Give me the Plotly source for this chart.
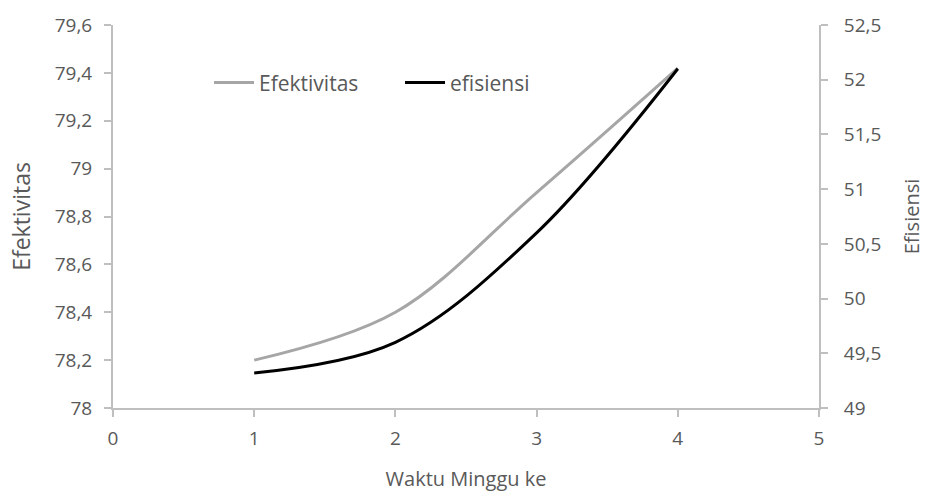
import plotly.graph_objects as go

# Weekly measurements
weeks = [1, 2, 3, 4]
efektivitas = [78.2, 78.4, 78.9, 79.42]
efisiensi = [49.32, 49.6, 50.6, 52.1]

# Axis ticks
x_ticks = [0, 1, 2, 3, 4, 5]
left_ticks = [78.0, 78.2, 78.4, 78.6, 78.8, 79.0, 79.2, 79.4, 79.6]
left_labels = ["78", "78,2", "78,4", "78,6", "78,8", "79", "79,2", "79,4", "79,6"]
right_ticks = [49.0, 49.5, 50.0, 50.5, 51.0, 51.5, 52.0, 52.5]
right_labels = ["49", "49,5", "50", "50,5", "51", "51,5", "52", "52,5"]

FONT = "Open Sans"
TXT = "#595959"
AX = "#BFBFBF"

fig = go.Figure()
fig.add_trace(go.Scatter(
    x=weeks, y=efektivitas, name="Efektivitas", mode="lines",
    line=dict(color="#A6A6A6", width=3, shape="spline", smoothing=1.0),
    yaxis="y",
))
fig.add_trace(go.Scatter(
    x=weeks, y=efisiensi, name="efisiensi", mode="lines",
    line=dict(color="#000000", width=3, shape="spline", smoothing=1.0),
    yaxis="y2",
))

axis_common = dict(
    showgrid=False, zeroline=False, automargin=False,
    showline=True, linecolor=AX, linewidth=2,
    ticks="outside", ticklen=7, tickcolor=AX, tickwidth=1.5,
    tickfont=dict(size=19, color=TXT),
)

fig.update_layout(
    width=925, height=492,
    margin=dict(l=113, r=106, t=25, b=84),
    paper_bgcolor="white", plot_bgcolor="white",
    font=dict(family=FONT, size=19, color=TXT),
    separators=",.",
    showlegend=True,
    legend=dict(
        orientation="h", x=0.136, y=0.849, xanchor="left", yanchor="middle",
        bgcolor="rgba(0,0,0,0)", font=dict(size=21, color=TXT),
        entrywidth=136, itemwidth=40,
    ),
    xaxis=dict(
        range=[0, 5], tickvals=x_ticks, ticktext=[str(v) for v in x_ticks],
        ticklabelstandoff=5,
        title=dict(text="Waktu Minggu ke", standoff=24, font=dict(size=20, color=TXT)),
        **axis_common,
    ),
    yaxis=dict(
        range=[78, 79.6], tickvals=left_ticks, ticktext=left_labels,
        ticklabelstandoff=8,
        title=dict(text="Efektivitas", standoff=18, font=dict(size=23, color=TXT)),
        **axis_common,
    ),
    yaxis2=dict(
        range=[49, 52.5], tickvals=right_ticks, ticktext=right_labels,
        overlaying="y", side="right",
        ticklabelstandoff=12,
        title=dict(text="Efisiensi", standoff=25, font=dict(size=20, color=TXT)),
        **axis_common,
    ),
)

fig.write_html("out.html")
